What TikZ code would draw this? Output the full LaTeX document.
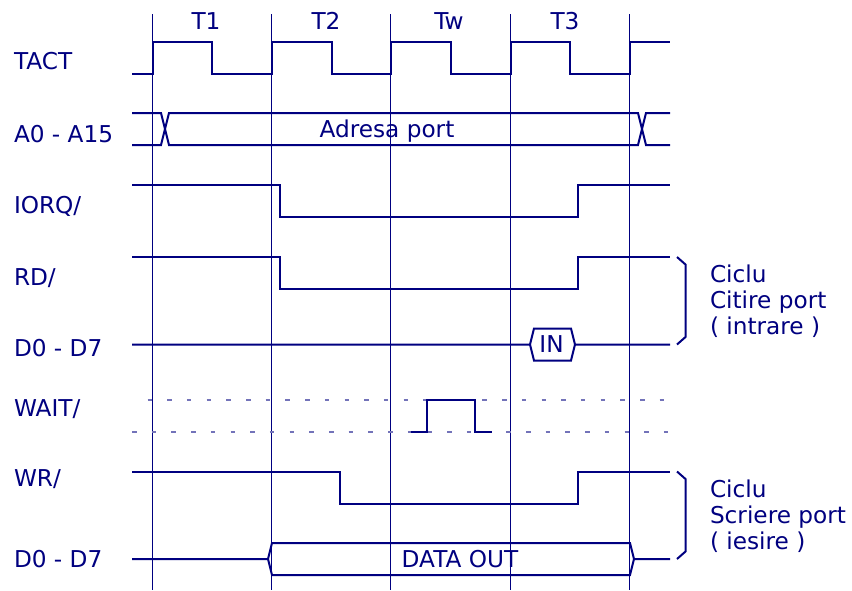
\documentclass[tikz,border=0pt]{standalone}
\usepackage{fontspec}
\setmainfont{DejaVu Sans}
\definecolor{ink}{HTML}{000080}
\tikzset{
  sig/.style={draw=ink,line width=2pt,line join=miter},
  grid line/.style={draw=ink,line width=1.2pt},
  dots/.style={draw=ink!55,line width=1.2pt,dash pattern=on 4.5pt off 15.2pt},
  txt/.style={anchor=base west,inner sep=0pt,outer sep=0pt,text=ink,font=\fontsize{23.2}{26}\selectfont},
  ctr/.style={anchor=base,inner sep=0pt,outer sep=0pt,text=ink,font=\fontsize{23.2}{26}\selectfont}
}
\begin{document}
\begin{tikzpicture}[x=1pt,y=-1pt]
\useasboundingbox (0,0) rectangle (852,590);
\fill[white] (0,0) rectangle (852,590);
% time grid
\foreach \x in {152.5,271.5,390.5,510.5,629.5}
  \draw[grid line] (\x,14) -- (\x,590);
% TACT
\draw[sig] (132,73.5) -- (152.5,73.5) -- (152.5,42) -- (212,42) -- (212,73.5) -- (272,73.5) -- (272,42) -- (331.5,42) -- (331.5,73.5) -- (391,73.5) -- (391,42) -- (450.5,42) -- (450.5,73.5) -- (510.5,73.5) -- (510.5,42) -- (570,42) -- (570,73.5) -- (630,73.5) -- (630,42) -- (670,42);
% A0-A15
\draw[sig] (132,113) -- (161,113) -- (169,145) -- (638,145) -- (646,113) -- (670,113);
\draw[sig] (132,145) -- (161,145) -- (169,113) -- (638,113) -- (646,145) -- (670,145);
% IORQ
\draw[sig] (132,185) -- (280,185) -- (280,217) -- (578,217) -- (578,185) -- (670,185);
% RD
\draw[sig] (132,257) -- (280,257) -- (280,289) -- (578,289) -- (578,257) -- (670,257);
\draw[sig] (677,257) -- (685.5,264.5) -- (685.5,337) -- (677,344.5);
% D0-D7 read
\draw[sig] (132,344.5) -- (530,344.5) -- (534,328.5) -- (571,328.5) -- (575,344.5) -- (670,344.5);
\draw[sig] (530,344.5) -- (534,360.5) -- (571,360.5) -- (575,344.5);
% WAIT
\draw[dots] (147.5,400) -- (670,400);
\draw[dots] (132,432) -- (670,432);
\draw[sig] (411,432) -- (427,432) -- (427,400) -- (474.5,400) -- (474.5,432) -- (492,432);
% WR
\draw[sig] (132,471.5) -- (339.5,471.5) -- (339.5,503.5) -- (578,503.5) -- (578,471.5) -- (670,471.5);
\draw[sig] (677,471.5) -- (685.5,479) -- (685.5,551.5) -- (677,559);
% D0-D7 write
\draw[sig] (132,559) -- (268,559) -- (272,543) -- (630,543) -- (634,559) -- (670,559);
\draw[sig] (268,559) -- (272,575) -- (630,575) -- (634,559);
% cycle headers
\node[ctr] (t1) at (206,29) {T1};
\node[ctr] (t2) at (326,29) {T2};
\node[ctr] (tw) at (449,29) {Tw};
\node[ctr] (t3) at (565,29) {T3};
% signal names
\node[txt] (l1) at (14,69) {TACT};
\node[txt] (l2) at (14,142) {A0 - A15};
\node[txt] (l3) at (14,213) {IORQ/};
\node[txt] (l4) at (14,285) {RD/};
\node[txt] (l5) at (14,356) {D0 - D7};
\node[txt] (l6) at (14,416) {WAIT/};
\node[txt] (l7) at (14,486) {WR/};
\node[txt] (l8) at (14,567) {D0 - D7};
% bus labels
\node[ctr] (addr) at (387,137) {Adresa port};
\node[ctr] (in) at (551.5,352) {IN};
\node[ctr] (out) at (460,567) {DATA OUT};
% side notes
\node[txt] (c1) at (710,282) {Ciclu};
\node[txt] (c2) at (710,308) {Citire port};
\node[txt] (c3) at (710,334) {( intrare )};
\node[txt] (d1) at (710,497) {Ciclu};
\node[txt] (d2) at (710,523) {Scriere port};
\node[txt] (d3) at (710,549) {( iesire )};
\end{tikzpicture}
\end{document}
